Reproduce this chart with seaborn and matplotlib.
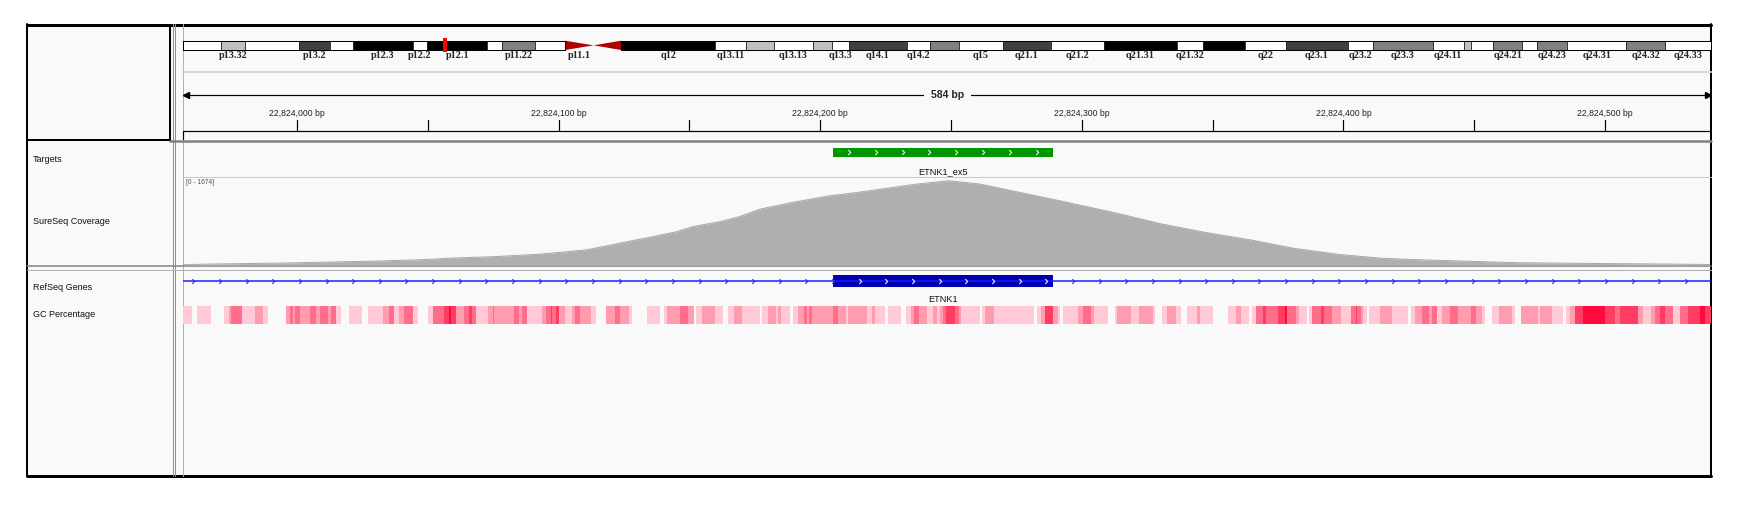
import numpy as np
import matplotlib
matplotlib.use("Agg")
import matplotlib.pyplot as plt
from matplotlib.path import Path
from matplotlib.patches import Rectangle, Polygon
import seaborn as sns

sns.set_theme(style="white")
plt.rcParams["font.family"] = ["Liberation Sans", "DejaVu Sans"]

# ---------------- data ----------------
chrom_len = 133275309
band_names = ["p13.33", "p13.32", "p13.31", "p13.2", "p13.1", "p12.3", "p12.2", "p12.1",
              "p11.23", "p11.22", "p11.21", "p11.1", "q11", "q12", "q13.11", "q13.12",
              "q13.13", "q13.2", "q13.3", "q14.1", "q14.2", "q14.3", "q15", "q21.1",
              "q21.2", "q21.31", "q21.32", "q21.33", "q22", "q23.1", "q23.2", "q23.3",
              "q24.11", "q24.12", "q24.13", "q24.21", "q24.22", "q24.23", "q24.31",
              "q24.32", "q24.33"]
band_starts = [0, 3300000, 5400000, 10100000, 12800000, 14800000, 20000000, 21300000,
               26500000, 27800000, 30700000, 33300000, 35800000, 38200000, 46400000,
               49100000, 51500000, 54900000, 56600000, 58100000, 63100000, 65100000,
               67700000, 71500000, 75700000, 80300000, 86700000, 89000000, 92600000,
               96200000, 101600000, 103800000, 109000000, 111700000, 112300000,
               114300000, 116800000, 118100000, 120700000, 125900000, 129300000]
band_stains = ["gneg", "gpos25", "gneg", "gpos75", "gneg", "gpos100", "gneg", "gpos100",
               "gneg", "gpos50", "gneg", "acen", "acen", "gpos100", "gneg", "gpos25",
               "gneg", "gpos25", "gneg", "gpos75", "gneg", "gpos50", "gneg", "gpos75",
               "gneg", "gpos100", "gneg", "gpos100", "gneg", "gpos75", "gneg", "gpos50",
               "gneg", "gpos25", "gneg", "gpos50", "gneg", "gpos50", "gneg", "gpos50",
               "gneg"]
labeled_bands = ["p13.32", "p13.2", "p12.3", "p12.2", "p12.1", "p11.22", "p11.1", "q12",
                 "q13.11", "q13.13", "q13.3", "q14.1", "q14.2", "q15", "q21.1", "q21.2",
                 "q21.31", "q21.32", "q22", "q23.1", "q23.2", "q23.3", "q24.11", "q24.21",
                 "q24.23", "q24.31", "q24.32", "q24.33"]

view_start = 22823956.5
view_end = 22824540.5
tick_bp = list(range(22824000, 22824501, 50))

target_start, target_end = 22824205, 22824289
target_name = "ETNK1_ex5"
exon_start, exon_end = 22824205, 22824289
gene_name = "ETNK1"

cov_max = 1674
cov_pos = [22823956, 22823968, 22823996, 22824014, 22824031, 22824048, 22824060,
           22824075, 22824092, 22824102, 22824111, 22824123, 22824134, 22824145,
           22824151, 22824162, 22824169, 22824177, 22824189, 22824203, 22824214,
           22824227, 22824236, 22824249, 22824261, 22824278, 22824292, 22824312,
           22824330, 22824347, 22824364, 22824381, 22824398, 22824415, 22824432,
           22824449, 22824466, 22824477, 22824496, 22824516, 22824531, 22824540]
cov_val = [5, 20, 40, 60, 79, 106, 139, 165, 212, 258, 304, 430, 543, 660, 760, 865,
           960, 1110, 1240, 1370, 1440, 1535, 1601, 1674, 1608, 1423, 1270, 1045, 820,
           648, 503, 331, 212, 132, 99, 73, 46, 40, 30, 22, 15, 10]

# GC percentage: run starts (bp from view start) and intensity level 0..5
gc_start = [0, 3.2, 5.3, 10.4, 15.5, 17.5, 18.4, 22.5, 27.3, 30.5, 32.4, 39.4, 40.7, 41.9,
            42.6, 44.5, 48.3, 50.6, 52.1, 55.3, 56.5, 58.4, 60.4, 63.3, 68.4, 70.5, 76.5,
            78.5, 80.7, 82.6, 84.5, 87.7, 89.6, 93.4, 95.6, 99.7, 101.7, 102.3, 104.2,
            107.4, 109.3, 110.5, 111.8, 116.3, 118.2, 118.8, 126.4, 128.3, 129.6, 131.5,
            137.2, 138.5, 140.4, 141.0, 142.3, 143.6, 146.1, 148.7, 149.9, 151.8, 155.7,
            157.6, 161.4, 165.2, 167.1, 170.3, 171.5, 177.3, 182.3, 183.6, 184.9, 190.0,
            193.1, 195.1, 196.0, 198.3, 203.4, 206.5, 208.4, 210.4, 213.5, 220.5, 221.4,
            223.4, 226.5, 227.5, 228.5, 232.0, 233.2, 235.1, 237.4, 238.3, 239.2, 240.5,
            248.5, 250.4, 253.2, 254.2, 261.2, 263.1, 264.4, 268.2, 269.4, 274.3, 276.4,
            278.1, 279.3, 281.1, 284.4, 286.6, 288.2, 289.1, 290.4, 291.7, 294.9, 296.4,
            297.4, 304.4, 305.3, 306.3, 310.1, 325.3, 326.4, 327.9, 329.4, 332.3, 334.2,
            335.3, 336.1, 341.9, 343.8, 346.9, 348.2, 353.3, 356.1, 357.1, 362.2, 365.4,
            370.5, 371.3, 374.3, 376.2, 379.3, 381.3, 383.8, 387.6, 388.8, 393.5, 399.2,
            402.4, 404.3, 407.5, 408.4, 410.0, 412.6, 413.8, 418.3, 421.1, 422.1, 425.3,
            426.6, 429.5, 430.4, 431.6, 434.8, 436.1, 439.3, 442.4, 446.3, 448.2, 448.8,
            450.1, 451.1, 452.6, 453.2, 457.4, 462.1, 468.1, 469.4, 471.0, 473.6, 476.1,
            477.4, 479.3, 481.2, 484.4, 487.2, 492.2, 494.3, 496.4, 497.7, 500.3, 502.8,
            507.9, 509.1, 511.3, 518.0, 518.7, 523.1, 527.6, 528.6, 530.1, 532.0, 535.2,
            543.5, 547.3, 549.2, 556.2, 558.1, 561.2, 562.5, 564.4, 566.3, 569.5, 572.0,
            575.2, 579.7, 581.6]
gc_level = [1, 0, 1, 0, 1, 2, 3, 1, 2, 1, 0, 2, 3, 2,
            3, 2, 3, 2, 3, 2, 3, 1, 0, 1, 0, 1, 2,
            3, 1, 2, 3, 1, 0, 1, 3, 4, 5, 4, 2,
            3, 4, 3, 1, 2, 3, 2, 3, 2, 3, 1,
            2, 3, 4, 3, 4, 2, 1, 2, 3, 2, 1,
            0, 2, 3, 2, 1, 0, 1, 0, 1, 2, 3,
            2, 0, 1, 2, 1, 0, 1, 2, 1, 0, 1,
            2, 1, 2, 1, 0, 1, 2, 3, 2, 3, 2,
            3, 2, 1, 2, 1, 2, 1, 0, 1, 0, 1,
            2, 3, 2, 1, 2, 1, 2, 3, 4, 3, 2,
            1, 0, 1, 2, 1, 0, 1, 2, 4, 2, 1,
            0, 1, 2, 3, 2, 1, 0, 1, 2, 1, 2,
            1, 0, 1, 2, 1, 0, 1, 2, 1, 0, 1,
            2, 1, 0, 1, 3, 4, 3, 4, 5, 3, 2,
            1, 0, 1, 3, 4, 3, 2, 1, 3, 4, 3,
            2, 1, 0, 1, 2, 1, 0, 1, 2, 3, 2,
            3, 1, 2, 3, 2, 3, 2, 1, 0, 1, 2,
            1, 0, 2, 1, 2, 1, 0, 1, 2, 4, 5,
            4, 3, 4, 2, 1, 2, 3, 4, 3, 1, 3,
            4, 5, 4]

# ---------------- styles ----------------
W, H = 1742, 508
BG = "#f9f9f9"
stain_colors = {"gneg": "#ffffff", "gpos25": "#c0c0c0", "gpos50": "#808080",
                "gpos75": "#404040", "gpos100": "#000000", "acen": "#b00000"}
gc_colors = [BG, "#ffcad6", "#ff9cb0", "#ff6d8b", "#ff3d63", "#ff0a3c"]
DL, DR = 183.3, 1711


def px(x0, y0, x1, y1):
    return [x0 / W, 1 - y1 / H, (x1 - x0) / W, (y1 - y0) / H]


def lw(p):
    return p * 72 / 100


chev = Path([(-0.5, 1), (0.5, 0), (-0.5, -1)], [Path.MOVETO, Path.LINETO, Path.LINETO])

fig = plt.figure(figsize=(W / 100, H / 100), dpi=100)
fig.patch.set_facecolor("white")

# ---------------- background / frame ----------------
bg = fig.add_axes([0, 0, 1, 1])
bg.set_xlim(0, W)
bg.set_ylim(H, 0)
bg.axis("off")
bg.add_patch(Rectangle((27, 24), 1684, 452, facecolor=BG, edgecolor="none"))
bg.add_patch(Rectangle((27, 24.5), 143, 115, facecolor="none", edgecolor="black", lw=lw(2)))
bg.plot([27, 1711], [24.5, 24.5], color="black", lw=lw(3))
bg.plot([27, 1711], [476, 476], color="black", lw=lw(3))
bg.plot([27, 27], [24, 476], color="black", lw=lw(2))
bg.plot([1711, 1711], [24, 476], color="black", lw=lw(2))
bg.plot([172.5, 172.5], [24, 476], color="#909090", lw=lw(1))
bg.plot([175, 175], [24, 476], color="#909090", lw=lw(1))
bg.plot([DL - 0.5, DL - 0.5], [24, 476], color="#b0b0b0", lw=lw(1))
bg.plot([DL, DR], [72, 72], color="#d8d8d8", lw=lw(2))
bg.plot([DL, DR], [130.5, 130.5], color="black", lw=lw(1.2))
bg.plot([DL, DL], [130.5, 139], color="black", lw=lw(1.2))
bg.plot([170, DR], [141, 141], color="#808080", lw=lw(2.5))
bg.plot([DL, DR], [177.3, 177.3], color="#c8c8d2", lw=lw(1))
bg.plot([27, DR], [266.2, 266.2], color="#808080", lw=lw(1.5))
bg.plot([27, DR], [269.5, 269.5], color="#b0b0b0", lw=lw(1))

name_kw = dict(fontsize=6.5, color="#111111", va="center", ha="left")
bg.text(33, 159, "Targets", **name_kw)
bg.text(33, 221, "SureSeq Coverage", **name_kw)
bg.text(33, 288, "RefSeq Genes", **name_kw)
bg.text(33, 314.5, "GC Percentage", **name_kw)
bg.text(DL + 3, 182, f"[0 - {cov_max}]", fontsize=4.8, color="#555555", va="center")

# ---------------- ideogram ----------------
ax_i = fig.add_axes(px(DL, 34, DR, 62))
ax_i.set_xlim(0, chrom_len)
ax_i.set_ylim(62, 34)
ax_i.axis("off")
ends = band_starts[1:] + [chrom_len]
top, bot = 40.7, 50.0
for name, s, e, st in zip(band_names, band_starts, ends, band_stains):
    if st == "acen":
        mid = (top + bot) / 2
        if name.startswith("p"):
            pts = [(s, top), (e, mid), (s, bot)]
        else:
            pts = [(s, mid), (e, top), (e, bot)]
        ax_i.add_patch(Polygon(pts, closed=True, facecolor=stain_colors[st], edgecolor="none"))
    else:
        ax_i.bar(s, bot - top, width=e - s, bottom=top, align="edge",
                 color=stain_colors[st], edgecolor="#202020", linewidth=lw(0.8))
    if name in labeled_bands:
        ax_i.text((s + e) / 2, 55.6, name, ha="center", va="center", fontsize=7.4,
                  fontweight="bold", family=["Liberation Serif", "DejaVu Serif"])
cen = band_names.index("p11.1")
ax_i.add_patch(Rectangle((0, top), band_starts[cen], bot - top, fill=False,
                         edgecolor="black", lw=lw(1)))
ax_i.add_patch(Rectangle((band_starts[cen + 2], top), chrom_len - band_starts[cen + 2],
                         bot - top, fill=False, edgecolor="black", lw=lw(1)))
mark_w = 4.5 * chrom_len / (DR - DL)
view_mid = (view_start + view_end) / 2
ax_i.add_patch(Rectangle((view_mid - mark_w / 2, 38.3), mark_w, 14,
                         facecolor="#ff0000", edgecolor="none"))

# ---------------- ruler ----------------
ax_r = fig.add_axes(px(DL, 62, DR, 140))
ax_r.set_xlim(view_start, view_end)
ax_r.set_ylim(140, 62)
ax_r.axis("off")
ax_r.plot([view_start, view_end], [95, 95], color="black", lw=lw(1.2))
ax_r.plot([view_start + 1.2], [95], marker="<", ms=4, color="black", clip_on=False)
ax_r.plot([view_end - 1.2], [95], marker=">", ms=4, color="black", clip_on=False)
ax_r.text(view_mid, 94.5, f"{round(view_end - view_start)} bp", ha="center", va="center",
          fontsize=7.6, fontweight="bold",
          bbox=dict(facecolor=BG, edgecolor="none", pad=5))
for t in tick_bp:
    ax_r.plot([t, t], [120, 130], color="black", lw=lw(1.2))
    if t % 100 == 0:
        ax_r.text(t, 113.3, f"{t:,} bp", ha="center", va="center", fontsize=6.2,
                  color="#222222")

# ---------------- targets ----------------
ax_t = fig.add_axes(px(DL, 142, DR, 177))
ax_t.set_xlim(view_start, view_end)
ax_t.set_ylim(177, 142)
ax_t.axis("off")
ax_t.bar(target_start, 9.3, width=target_end - target_start, bottom=147.7, align="edge",
         color="#009600", linewidth=0)
tchev = target_start + 6 + 10.24 * np.arange(8)
ax_t.plot(tchev, np.full(len(tchev), 152.3), ls="none", marker=chev, ms=3.5,
          mec="white", mfc="none", mew=lw(1))
ax_t.text((target_start + target_end) / 2, 171.7, target_name, ha="center", va="center",
          fontsize=6.6, color="#111111")

# ---------------- coverage ----------------
ax_c = fig.add_axes(px(DL, 177.3, DR, 265))
ax_c.set_xlim(view_start, view_end)
ax_c.set_ylim(0, cov_max * (265 - 177.3) / (265 - 180.7))
ax_c.axis("off")
ax_c.fill_between(cov_pos, cov_val, color="#afafaf", linewidth=0)
sns.lineplot(x=cov_pos, y=cov_val, ax=ax_c, color="#a8a8a8", lw=lw(1))

# ---------------- genes ----------------
ax_g = fig.add_axes(px(DL, 270, DR, 305))
ax_g.set_xlim(view_start, view_end)
ax_g.set_ylim(305, 270)
ax_g.axis("off")
ax_g.plot([view_start, view_end], [281.3, 281.3], color="#1a1aff", lw=lw(1.5))
gchev = view_start + 3.8 + 10.19 * np.arange(58)
inside = (gchev > exon_start) & (gchev < exon_end)
ax_g.plot(gchev[~inside], np.full((~inside).sum(), 281.3), ls="none", marker=chev, ms=3.3,
          mec="#3030ff", mfc="none", mew=lw(1.2))
ax_g.bar(exon_start, 12.3, width=exon_end - exon_start, bottom=275, align="edge",
         color="#0000b2", linewidth=0)
ax_g.plot(gchev[inside], np.full(inside.sum(), 281.3), ls="none", marker=chev, ms=3.5,
          mec="white", mfc="none", mew=lw(1))
ax_g.text((exon_start + exon_end) / 2, 299.5, gene_name, ha="center", va="center",
          fontsize=6.6, color="#111111")

# ---------------- GC percentage ----------------
ax_gc = fig.add_axes(px(DL, 306, DR, 324))
ax_gc.set_xlim(view_start, view_end)
ax_gc.set_ylim(0, 1)
ax_gc.axis("off")
gs = np.array(gc_start)
ge = np.append(gs[1:], view_end - view_start)
lv = np.array(gc_level)
keep = lv > 0
ax_gc.bar(view_start + gs[keep], 1, width=(ge - gs)[keep], align="edge",
          color=[gc_colors[v] for v in lv[keep]], linewidth=0, antialiased=False)

fig.savefig("out.png", dpi=100, facecolor="white")
